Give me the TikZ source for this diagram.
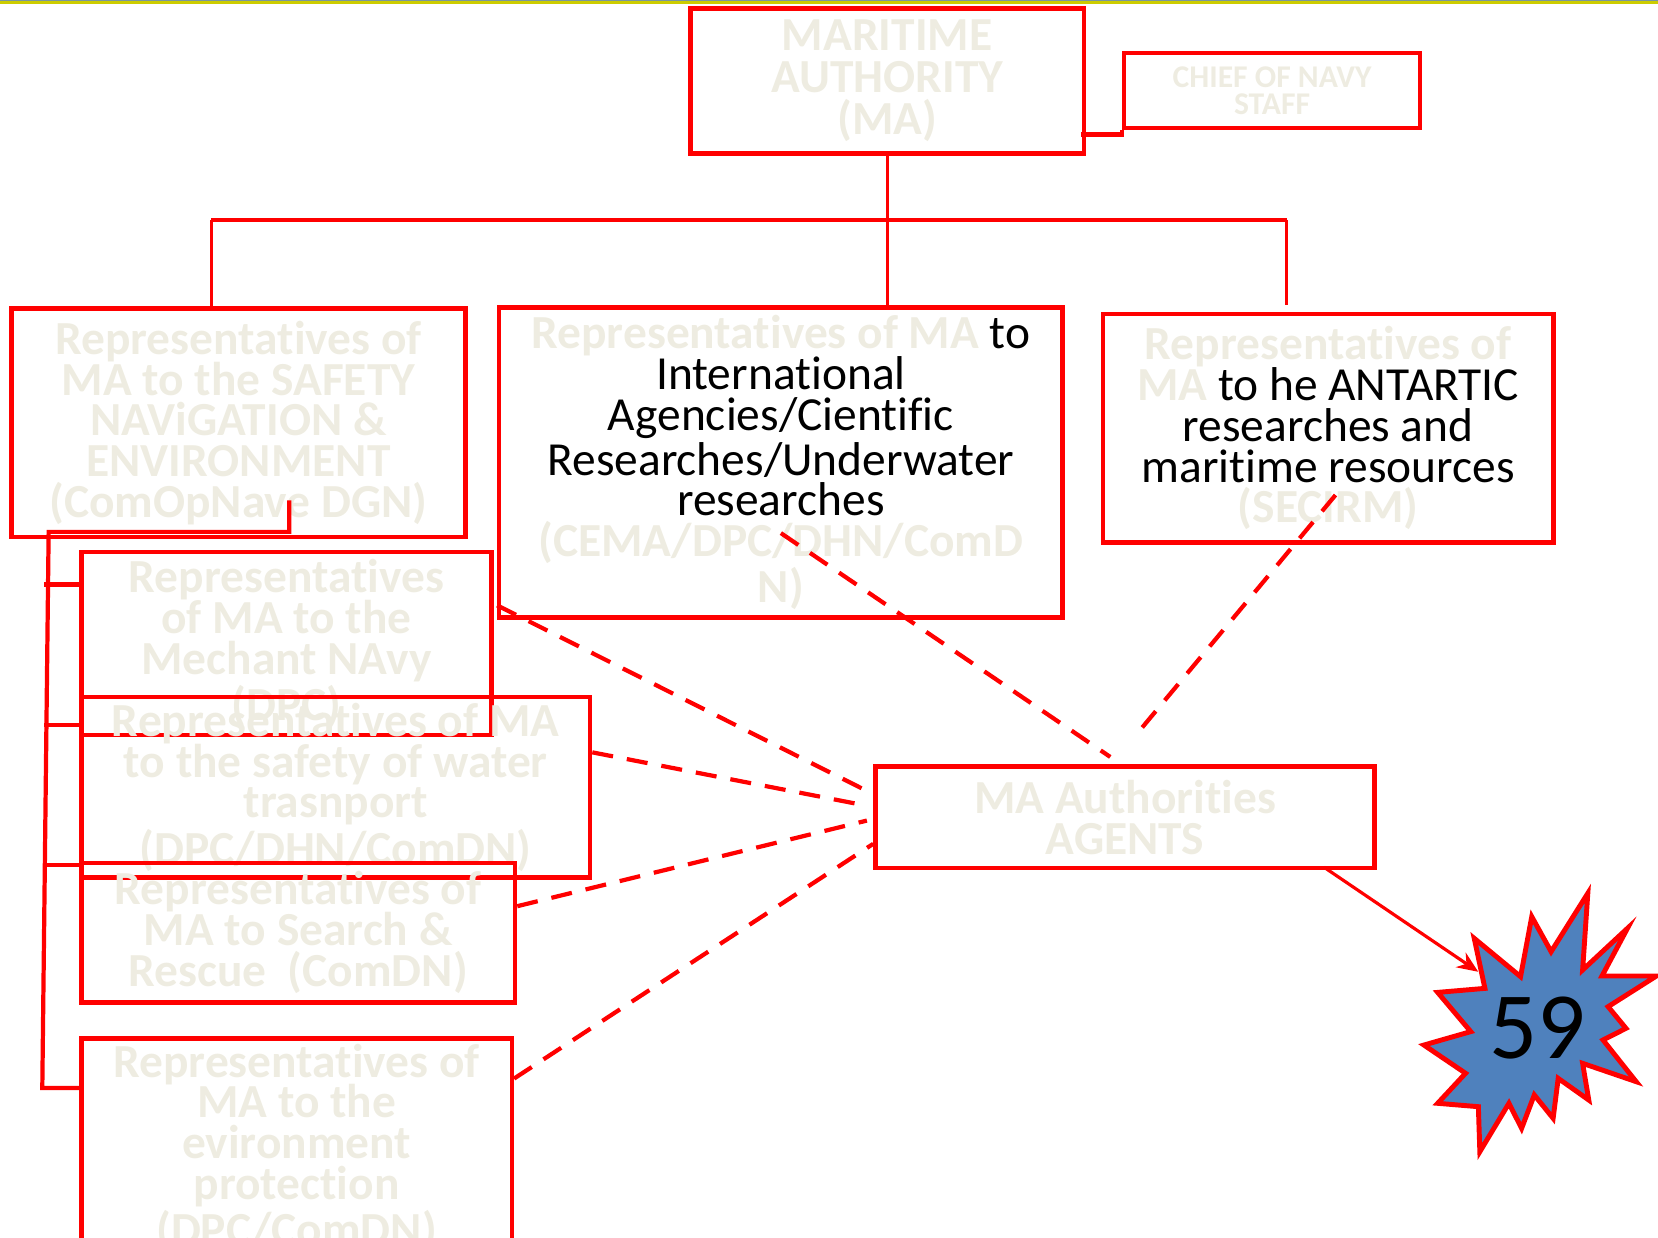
\documentclass[tikz,border=0pt]{standalone}
\usepackage{fontspec}
\setmainfont{Carlito}[Ligatures=NoCommon]
\usetikzlibrary{calc,arrows.meta}
\definecolor{mared}{RGB}{255,0,0}
\definecolor{beige}{RGB}{238,236,225}
\definecolor{burstblue}{RGB}{79,129,189}
\definecolor{topband}{RGB}{204,204,0}
\definecolor{topline}{RGB}{120,150,160}
\newlength\pxu
\setlength\pxu{0.30085pt}
\newcommand\plaintxt[1]{{\mdseries\color{black}#1}}
\tikzset{
  box/.style={draw=mared, line width=1.3pt, inner sep=0pt, align=center, text=beige,
    font=\bfseries\fontsize{13.5}{11.6}\selectfont},
  tree/.style={draw=mared, line width=0.8pt},
  bus/.style={draw=mared, line width=1.2pt},
  agentlink/.style={draw=mared, line width=1.2pt, dash pattern=on 6pt off 4pt},
}

\begin{document}
\begin{tikzpicture}[x=0.010574cm, y=-0.010574cm]
% Page
\path[use as bounding box, clip] (0,0) rectangle (1568,1170);
\fill[topband] (0,0) rectangle (1568,4);
\fill[topline] (0,0) rectangle (1568,1);
% Top of the chart
\node[box, minimum width=372\pxu, minimum height=137\pxu,
  font=\bfseries\fontsize{13.5}{12}\selectfont] (ma) at (839,76.5)
  {MARITIME\\AUTHORITY\\(MA)};
\node[box, minimum width=280\pxu, minimum height=71\pxu,
  font=\bfseries\fontsize{9}{7.6}\selectfont] (chief) at (1203,85.5)
  {CHIEF OF NAVY\\STAFF};
% Second level
\node[box, minimum width=429\pxu, minimum height=216\pxu] (safety) at (225.5,400)
  {Representatives of\\MA to the SAFETY\\NAViGATION \&\\ENVIRONMENT\\(ComOpNave DGN)};
\node[box, minimum width=533\pxu, minimum height=293\pxu] (intl) at (738.5,437.5)
  {Representatives of MA \plaintxt{to}\\\plaintxt{International}\\\plaintxt{Agencies/Cientific}\\
   \plaintxt{Researches/Underwater}\\\plaintxt{researches}\\(CEMA/DPC/DHN/ComD\\N)};
\node[box, minimum width=426\pxu, minimum height=216\pxu] (antartic) at (1256,405)
  {Representatives of\\MA \plaintxt{to he ANTARTIC}\\\plaintxt{researches and}\\
   \plaintxt{maritime resources}\\(SECIRM)};
% Under the safety box
\node[box, minimum width=388\pxu, minimum height=173\pxu] (mechant) at (271,608.5)
  {Representatives\\of MA to the\\Mechant NAvy\\(DPC)};
\node[box, minimum width=481\pxu, minimum height=171\pxu] (water) at (317.5,744.5)
  {Representatives of MA\\to the safety of water\\trasnport\\(DPC/DHN/ComDN)};
\node[box, minimum width=410\pxu, minimum height=132\pxu] (sar) at (282,882)
  {Representatives of\\MA to Search \&\\Rescue~ (ComDN)};
\node[box, minimum width=407\pxu, minimum height=208\pxu] (env) at (280.5,1086)
  {Representatives of\\MA to the\\evironment\\protection\\(DPC/ComDN)};
% Agents and count
\node[box, minimum width=472\pxu, minimum height=96\pxu] (agents) at (1064,773)
  {MA Authorities\\AGENTS};
\filldraw[fill=burstblue, draw=mared, line width=1.4pt]
  (1501.6,844.8) -- (1496.7,917.3) -- (1539.1,877.9) -- (1515,923) -- (1566.5,923)
  -- (1520.8,952) -- (1537.7,972.5) -- (1516,983.5) -- (1547.3,1022.9) -- (1496.7,1005.6)
  -- (1502.5,1040.3) -- (1473.6,1019.8) -- (1468.8,1057.6) -- (1451,1035.5) -- (1439,1067.1)
  -- (1427,1043.4) -- (1399.5,1089.1) -- (1398.1,1046.6) -- (1359.6,1043.4) -- (1386,1015)
  -- (1346.6,988.3) -- (1390.9,975.6) -- (1359.6,938.5) -- (1404.3,934.7) -- (1394.2,887.4)
  -- (1438,923.6) -- (1448.6,866.9) -- (1466.9,900) -- cycle;
\node[font=\fontsize{27}{30}\selectfont, inner sep=0pt] (burst) at (1454,972) {59};
\coordinate (burstTip) at (1398,919);
% Tree
\coordinate (busL) at (200,208);
\coordinate (busR) at (1217,208);
\coordinate (antTop) at (1217,288);
\draw[tree] (ma.south) -- (ma.south |- busL);
\draw[bus] (busL) -- (busR);
\draw[tree] (busL) -- (busL |- safety.north);
\draw[tree] (ma.south |- busL) -- (ma.south |- intl.north);
\draw[tree] (busR) -- (antTop);
\draw[bus] ($(ma.south east)+(-5,-20)$) -| (chief.south west);
% Left bus
\coordinate (busTop) at (46,503);
\coordinate (busBot) at (40,1029);
\draw[bus] ($(safety.south)+(48,-37)$) |- (busTop) -- (busBot) -- (busBot -| env.west);
\foreach \b/\dy in {mechant/33, water/29, sar/4}
  \draw[bus] ($(\b.north west)+(0,\dy)$) -- ++(-33,0);
% Dashed links to the agents
\draw[agentlink] ($(intl.south)+(0,-82)$) -- ($(agents.north)+(-14,-7)$);
\draw[agentlink] ($(antartic.south)+(7,-47)$) -- ($(agents.north)+(8,-25)$);
\draw[agentlink] ($(mechant.east)+(3,-36)$) -- ($(agents.west)+(-6,-25)$);
\draw[agentlink] ($(water.east)+(0,-33)$) -- ($(agents.west)+(-6,-11)$);
\draw[agentlink] ($(sar.east)+(0,-25)$) -- ($(agents.west)+(-6,3)$);
\draw[agentlink] ($(env.east)+(0,-66)$) -- ($(agents.west)+(0,25)$);
% Count arrow
\draw[draw=mared, line width=0.9pt, -{Stealth[length=6pt, width=5pt]}]
  ($(agents.south east)+(-50,-3)$) -- (burstTip);
\end{tikzpicture}
\end{document}
